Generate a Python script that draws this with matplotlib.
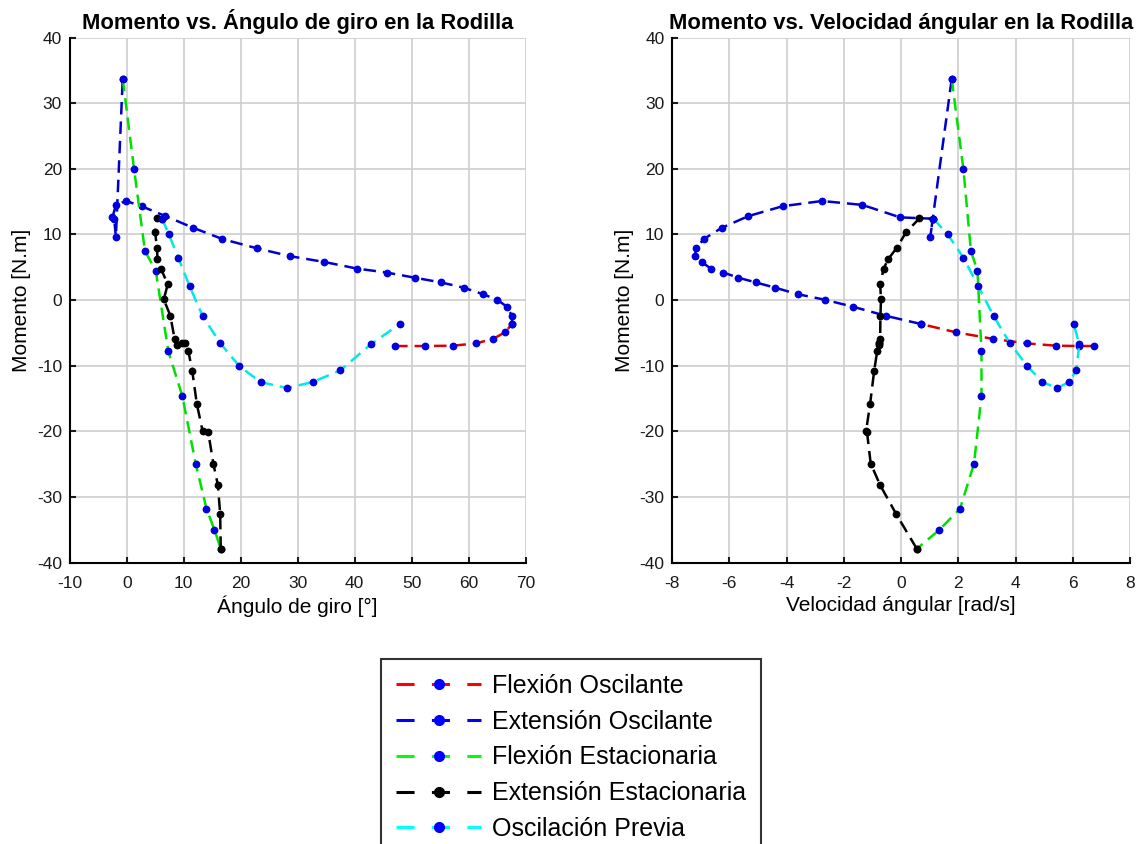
import matplotlib as mpl

mpl.use("Agg")

import matplotlib.pyplot as plt
from matplotlib.lines import Line2D

# Flexion oscilante (rojo)
ANG_FO = [47.1, 52.4, 57.2, 61.3, 64.3, 66.4, 67.6]
VEL_FO = [6.74, 6.2, 5.41, 4.39, 3.2, 1.91, 0.70]
MOM_FO = [-7.0, -7.0, -6.95, -6.6, -5.9, -4.9, -3.65]

# Extension oscilante (azul)
ANG_EO = [67.6, 67.6, 66.7, 65.0, 62.5, 59.1, 55.1, 50.6, 45.6, 40.4, 34.7, 28.6,
          22.8, 16.8, 11.7, 6.8, 2.6, -0.1, -1.9, -2.5, -2.2, -1.9, -0.7]
VEL_EO = [0.70, -0.53, -1.69, -2.66, -3.61, -4.41, -5.08, -5.68, -6.21, -6.64, -6.97, -7.19,
          -7.17, -6.89, -6.27, -5.33, -4.14, -2.76, -1.35, -0.03, 1.11, 1.02, 1.77]
MOM_EO = [-3.65, -2.4, -1.0, 0.05, 0.9, 1.9, 2.7, 3.4, 4.2, 4.8, 5.8, 6.7,
          7.9, 9.3, 11.0, 12.8, 14.3, 15.1, 14.5, 12.6, 12.4, 9.6, 33.7]

# Flexion estacionaria (verde)
ANG_FE = [-0.7, 1.3, 3.2, 5.1, 7.3, 9.75, 12.1, 14.0, 15.4, 16.5]
VEL_FE = [1.77, 2.18, 2.44, 2.67, 2.81, 2.81, 2.55, 2.06, 1.34, 0.55]
MOM_FE = [33.7, 19.9, 7.5, 4.45, -7.8, -14.6, -24.9, -31.8, -35.0, -37.9]

# Extension estacionaria (negro)
ANG_EE = [16.5, 16.4, 16.0, 15.2, 14.3, 13.3, 12.3, 11.5, 10.8, 10.3, 9.7,
          8.8, 8.4, 7.65, 6.5, 7.2, 6.0, 5.4, 5.3, 5.0, 5.4, 6.2]
VEL_EE = [0.55, -0.17, -0.73, -1.06, -1.19, -1.22, -1.08, -0.94, -0.83, -0.77, -0.76,
          -0.76, -0.73, -0.72, -0.70, -0.73, -0.61, -0.44, -0.15, 0.17, 0.64, 1.13]
MOM_EE = [-37.9, -32.6, -28.2, -24.9, -20.1, -19.9, -15.8, -10.8, -7.7, -6.6, -6.6,
          -6.9, -5.9, -2.35, 0.1, 2.4, 4.8, 6.3, 7.95, 10.3, 12.45, 12.4]

# Oscilacion previa (cian)
ANG_OP = [6.2, 7.4, 9.05, 11.05, 13.3, 16.4, 19.75, 23.5, 28.1, 32.6, 37.5, 42.8, 47.9]
VEL_OP = [1.13, 1.63, 2.18, 2.70, 3.23, 3.80, 4.41, 4.94, 5.45, 5.87, 6.12, 6.23, 6.03]
MOM_OP = [12.4, 10.0, 6.45, 2.1, -2.4, -6.55, -10.06, -12.5, -13.4, -12.5, -10.7, -6.76, -3.66]

LABELS = ["Flexión Oscilante", "Extensión Oscilante", "Flexión Estacionaria",
          "Extensión Estacionaria", "Oscilación Previa"]
LINE_COLORS = ["#dd0000", "#0000cc", "#00e000", "#000000", "#00e8e8"]
MARKER_COLORS = ["#0000dd", "#0000dd", "#0000dd", "#000000", "#0000dd"]

X_TICKS_ANG = list(range(-10, 71, 10))
X_TICKS_VEL = list(range(-8, 9, 2))
Y_TICKS = list(range(-40, 41, 10))


def configure_matplotlib():
    mpl.rcParams.update({
        "font.family": ["Liberation Sans", "DejaVu Sans"],
        "lines.scale_dashes": False,
        "axes.linewidth": 1.5,
        "axes.unicode_minus": False,
    })


def style_axes(ax, xticks, xlabel, title):
    ax.set_xlim(xticks[0], xticks[-1])
    ax.set_ylim(Y_TICKS[0], Y_TICKS[-1])
    ax.set_xticks(xticks)
    ax.set_yticks(Y_TICKS)
    ax.grid(True, color="#cdcdcd", linewidth=1.2)
    ax.set_axisbelow(True)
    ax.spines["top"].set_visible(False)
    ax.spines["right"].set_visible(False)
    ax.tick_params(direction="in", length=4, width=1.5, labelsize=12.5,
                   colors="#1a1a1a")
    ax.tick_params(axis="x", pad=10)
    ax.tick_params(axis="y", pad=5.5)
    ax.set_xlabel(xlabel, fontsize=15, labelpad=3)
    ax.set_ylabel("Momento [N.m]", fontsize=15, labelpad=4)
    ax.set_title(title, fontsize=15.8, fontweight="bold", pad=6)


def plot_series(ax, xs_list, ys_list):
    for xs, ys, lc, mc in zip(xs_list, ys_list, LINE_COLORS, MARKER_COLORS):
        ax.plot(xs, ys, color=lc, linestyle=(0, (9, 5)), linewidth=1.8,
                marker="o", markersize=4.6, markerfacecolor=mc, markeredgecolor=mc)


def main():
    configure_matplotlib()
    fig = plt.figure(figsize=(11.41, 8.44), dpi=100, facecolor="white")
    ax1 = fig.add_axes([0.0611, 0.3334, 0.3996, 0.6221])
    ax2 = fig.add_axes([0.589, 0.3334, 0.4014, 0.6221])

    moments = [MOM_FO, MOM_EO, MOM_FE, MOM_EE, MOM_OP]
    plot_series(ax1, [ANG_FO, ANG_EO, ANG_FE, ANG_EE, ANG_OP], moments)
    plot_series(ax2, [VEL_FO, VEL_EO, VEL_FE, VEL_EE, VEL_OP], moments)

    style_axes(ax1, X_TICKS_ANG, "Ángulo de giro [°]",
               "Momento vs. Ángulo de giro en la Rodilla")
    style_axes(ax2, X_TICKS_VEL, "Velocidad ángular [rad/s]",
               "Momento vs. Velocidad ángular en la Rodilla")

    handles = [
        Line2D([0], [0], color=lc, linestyle=(0, (13, 12.5)), linewidth=2.2,
               marker="o", markersize=7, markerfacecolor=mc, markeredgecolor=mc)
        for lc, mc in zip(["#ff0000", "#0000ff", "#00ff00", "#000000", "#00ffff"],
                          ["#0000ff", "#0000ff", "#0000ff", "#000000", "#0000ff"])
    ]
    leg = fig.legend(handles, LABELS, loc="upper center",
                     bbox_to_anchor=(0.5007, 1 - 659 / 844), borderaxespad=0,
                     fontsize=18, handlelength=3.4, handletextpad=0.45,
                     labelspacing=0.47, borderpad=0.6, numpoints=1,
                     frameon=True, fancybox=False)
    leg.get_frame().set_edgecolor("black")
    leg.get_frame().set_linewidth(1.5)

    fig.savefig("out.png", dpi=100, facecolor="white")
    plt.close(fig)


if __name__ == "__main__":
    main()
